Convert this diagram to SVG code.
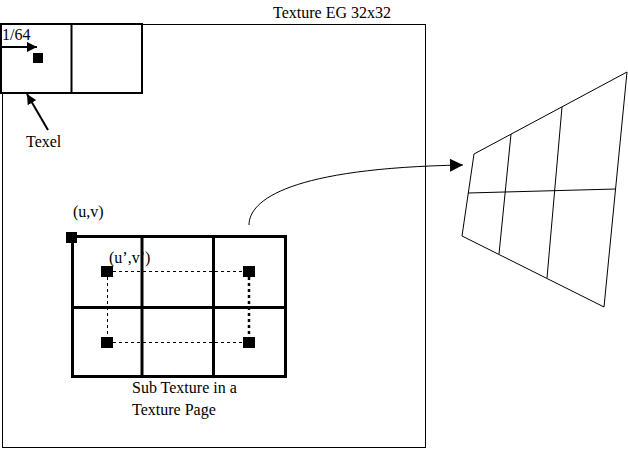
<svg xmlns="http://www.w3.org/2000/svg" width="628" height="450" viewBox="0 0 628 450">
<style>
text{font-family:"Liberation Serif","Times New Roman",serif;font-size:16px;fill:#000}
.thin{fill:none;stroke:#000;stroke-width:1}
.thick{fill:none;stroke:#000;stroke-width:3}
.med{fill:none;stroke:#000;stroke-width:2}
.dot{fill:none;stroke:#000;stroke-width:1;stroke-dasharray:3 3}
.dotb{fill:none;stroke:#000;stroke-width:2.5;stroke-dasharray:3 3}
.sq{fill:#000}
</style>
<defs>
<marker id="ah" viewBox="0 0 10 10" refX="10" refY="5" markerWidth="10" markerHeight="10" markerUnits="userSpaceOnUse" orient="auto"><path d="M0,0 L10,5 L0,10 z" fill="#000"/></marker>
<marker id="ahb" viewBox="0 0 10 10" refX="10" refY="5" markerWidth="16" markerHeight="13" markerUnits="userSpaceOnUse" orient="auto"><path d="M0,0 L10,5 L0,10 z" fill="#000"/></marker>
</defs>
<rect width="628" height="450" fill="#fff"/>
<g id="texture-page">
<rect class="thin" x="2.5" y="24.5" width="423" height="423"/>
<text x="273" y="18">Texture EG 32x32</text>
</g>
<g id="texel-pair">
<rect x="1" y="24" width="141" height="69" fill="#fff" stroke="#000" stroke-width="2"/>
<line class="med" x1="71.5" y1="24" x2="71.5" y2="93"/>
<rect class="sq" x="33" y="53" width="10" height="10"/>
<text x="2" y="40">1/64</text>
</g>
<g id="texel-label">
<text x="26" y="147">Texel</text>
</g>
<g id="uv-label">
<text x="73" y="217">(u,v)</text>
</g>
<g id="sub-texture">
<text x="109" y="263">(u’,v’)</text>
<rect class="thick" x="72.5" y="236.5" width="213" height="140"/>
<line class="thick" x1="142" y1="236" x2="142" y2="377"/>
<line class="thick" x1="213.5" y1="236" x2="213.5" y2="377"/>
<line class="thick" x1="72" y1="307.5" x2="286" y2="307.5"/>
<rect class="sq" x="66" y="232" width="11" height="11"/>
<line class="dot" x1="113" y1="271.5" x2="243" y2="271.5"/>
<line class="dot" x1="113" y1="342.5" x2="243" y2="342.5"/>
<line class="dot" x1="107.5" y1="277" x2="107.5" y2="337"/>
<line class="dotb" x1="249" y1="277" x2="249" y2="337"/>
<rect class="sq" x="101" y="266" width="12" height="11"/>
<rect class="sq" x="243" y="266" width="12" height="11"/>
<rect class="sq" x="101" y="337" width="12" height="11"/>
<rect class="sq" x="243" y="337" width="12" height="11"/>
<text x="132" y="393">Sub Texture in a</text>
<text x="132" y="415">Texture Page</text>
</g>
<g id="projected-quad">
<polygon class="thin" points="474,154 627,72 604,307 462,236"/>
<line class="thin" x1="511" y1="134" x2="499" y2="254"/>
<line class="thin" x1="562" y1="107" x2="547" y2="278"/>
<line class="thin" x1="468" y1="193" x2="616" y2="189"/>
</g>
<g id="connectors">
<line class="med" x1="0" y1="47" x2="37" y2="47" marker-end="url(#ah)"/>
<line class="med" x1="48" y1="130" x2="27" y2="94" marker-end="url(#ah)"/>
<path class="thin" d="M249,225 C249,200 290,168 463,165" marker-end="url(#ahb)"/>
</g>
</svg>
